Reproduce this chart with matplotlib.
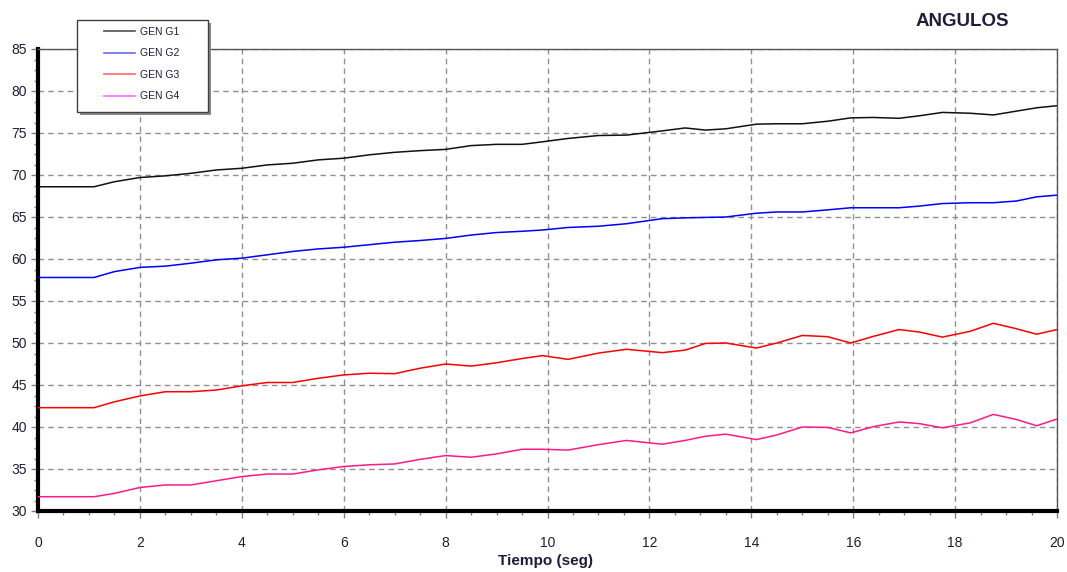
import matplotlib
matplotlib.use("Agg")
import matplotlib.pyplot as plt
from matplotlib.lines import Line2D
from matplotlib.patches import Rectangle
from matplotlib.ticker import MultipleLocator

# tiempo (s) y angulos (grados)
tiempo = [0, 1.1, 1.5, 2, 2.5, 3, 3.5, 4, 4.5, 5, 5.5, 6, 6.5, 7, 7.5, 8, 8.5, 9, 9.5,
          9.9, 10.4, 11.0, 11.55, 12.25, 12.7, 13.1, 13.5, 14.1, 14.5, 15.0, 15.5,
          15.95, 16.4, 16.9, 17.3, 17.75, 18.3, 18.75, 19.2, 19.6, 20]

gen_g1 = [68.6, 68.6, 69.2, 69.7, 69.9, 70.2, 70.6, 70.8, 71.2, 71.4, 71.8, 72.0, 72.4,
          72.7, 72.9, 73.05, 73.5, 73.65, 73.65,
          73.95, 74.35, 74.7, 74.75, 75.25, 75.6, 75.35, 75.5, 76.05, 76.1, 76.1, 76.4,
          76.8, 76.85, 76.75, 77.05, 77.45, 77.35, 77.15, 77.6, 78.0, 78.25]

gen_g2 = [57.8, 57.8, 58.5, 59.0, 59.15, 59.5, 59.9, 60.1, 60.5, 60.9, 61.2, 61.4, 61.7,
          62.0, 62.2, 62.45, 62.85, 63.15, 63.3,
          63.45, 63.75, 63.9, 64.2, 64.8, 64.9, 64.95, 65.0, 65.45, 65.6, 65.6, 65.85,
          66.1, 66.1, 66.1, 66.3, 66.6, 66.7, 66.7, 66.9, 67.4, 67.6]

gen_g3 = [42.3, 42.3, 43.0, 43.7, 44.2, 44.2, 44.4, 44.9, 45.3, 45.3, 45.8, 46.2, 46.4,
          46.35, 47.0, 47.5, 47.25, 47.65, 48.15,
          48.5, 48.05, 48.8, 49.25, 48.85, 49.15, 49.95, 50.0, 49.4, 50.0, 50.9, 50.75,
          50.0, 50.8, 51.6, 51.3, 50.7, 51.4, 52.35, 51.7, 51.05, 51.6]

gen_g4 = [31.7, 31.7, 32.1, 32.8, 33.1, 33.1, 33.6, 34.1, 34.4, 34.4, 34.9, 35.3, 35.5,
          35.6, 36.15, 36.6, 36.4, 36.8, 37.35,
          37.35, 37.25, 37.9, 38.4, 37.95, 38.4, 38.9, 39.15, 38.5, 39.05, 40.0, 39.95,
          39.3, 40.05, 40.6, 40.4, 39.9, 40.5, 41.5, 40.9, 40.15, 40.95]

etiquetas = ["GEN G1", "GEN G2", "GEN G3", "GEN G4"]
colores = ["#111111", "#0000ff", "#ff0000", "#ff1a8c"]
colores_leyenda = ["#505050", "#6a6aff", "#ff6a6a", "#ff6aff"]

plt.rcParams["font.family"] = ["Liberation Sans", "DejaVu Sans"]

W, H = 1067, 572
fig = plt.figure(figsize=(W / 100, H / 100), dpi=100)
ax = fig.add_axes([38 / W, 1 - 511 / H, (1057 - 38) / W, (511 - 49) / H])

for serie, color in zip([gen_g1, gen_g2, gen_g3, gen_g4], colores):
    ax.plot(tiempo, serie, color=color, linewidth=1.1, zorder=3)

ax.set_xlim(0, 20)
ax.set_ylim(30, 85)
ax.xaxis.set_major_locator(MultipleLocator(2))
ax.xaxis.set_minor_locator(MultipleLocator(0.5))
ax.yaxis.set_major_locator(MultipleLocator(5))
ax.yaxis.set_minor_locator(MultipleLocator(1.25))

ax.grid(True, which="major", color="#909090", linestyle=(0, (4, 3)), linewidth=1.0)

for lado in ["left", "bottom"]:
    ax.spines[lado].set_linewidth(3.0)
    ax.spines[lado].set_color("black")
for lado in ["top", "right"]:
    ax.spines[lado].set_linewidth(1.0)
    ax.spines[lado].set_color("#555555")

ax.tick_params(which="major", direction="out", length=5, width=1, color="#808080",
               labelsize=10, labelcolor="#1e1e3c")
ax.tick_params(which="minor", direction="out", length=3, width=1, color="#808080")
ax.tick_params(axis="x", which="major", pad=13)
ax.tick_params(axis="y", which="major", pad=3)

fig.text(546 / W, 1 - 561 / H, "Tiempo (seg)", ha="center", va="center",
         fontsize=11, fontweight="bold", color="#1e1e3c")
fig.text(962 / W, 1 - 22 / H, "ANGULOS", ha="center", va="center",
         fontsize=13.5, fontweight="bold", color="#1e1e3c")

# caja de la leyenda con sombra
fig.add_artist(Rectangle((80 / W, 1 - 115 / H), 131 / W, 92 / H, transform=fig.transFigure,
                         facecolor="#8a8a8a", edgecolor="none", zorder=5))
fig.add_artist(Rectangle((77 / W, 1 - 112 / H), 131 / W, 92 / H, transform=fig.transFigure,
                         facecolor="white", edgecolor="#404040", linewidth=1.0, zorder=6))

manejadores = [Line2D([], [], color=c, linewidth=1.2) for c in colores_leyenda]
leg = fig.legend(manejadores, etiquetas, loc="upper left",
                 bbox_to_anchor=(104 / W, 1 - 27 / H), frameon=False, fontsize=7.5,
                 handlelength=3.0, handletextpad=0.5, labelspacing=1.1,
                 borderpad=0, borderaxespad=0)
leg.set_zorder(7)
for txt in leg.get_texts():
    txt.set_color("#1e1e3c")

fig.savefig("out.png", dpi=100)
